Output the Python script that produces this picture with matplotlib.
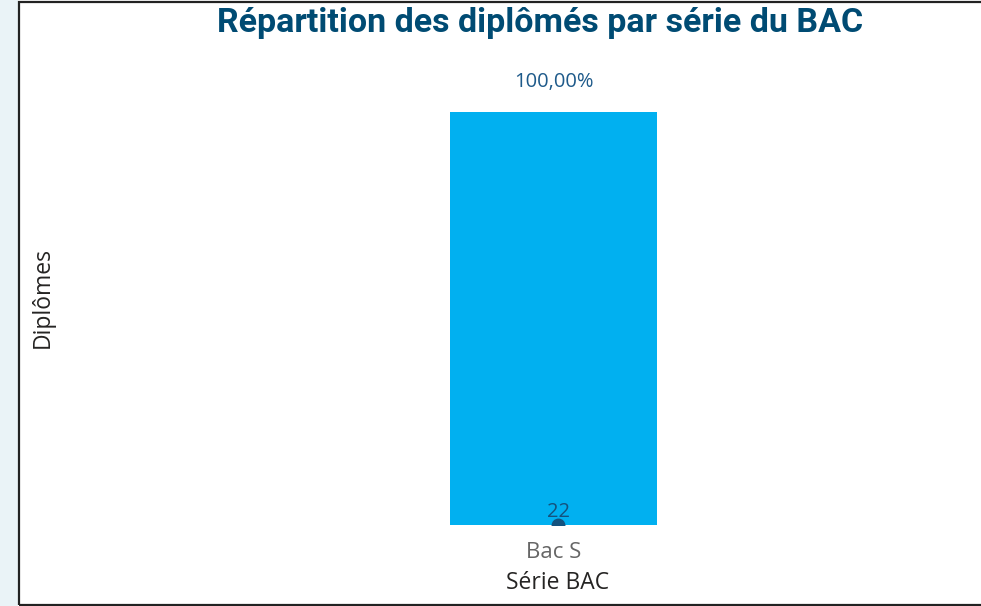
import matplotlib
matplotlib.use("Agg")
import matplotlib.pyplot as plt
from matplotlib.patches import Rectangle

categories = ["Bac S"]
pct_values = [100.0]
count_values = [22]
pct_labels = ["100,00%"]

W, H = 981, 606
fig = plt.figure(figsize=(W / 100, H / 100), dpi=100)
fig.patch.set_facecolor("white")

# left pale strip and black frame (no right edge visible)
fig.patches.append(Rectangle((0, 0), 18 / W, 1, transform=fig.transFigure,
                             facecolor="#EAF3F7", edgecolor="none", zorder=0))
fig.patches.append(Rectangle((18.5 / W, 1.5 / H), (W + 20) / W, (H - 3) / H,
                             transform=fig.transFigure, facecolor="none",
                             edgecolor="#222222", linewidth=1.6, zorder=5))

ax_left, ax_right = 60, 960
ax_top, ax_bottom = 60, 525
ax = fig.add_axes([ax_left / W, (H - ax_bottom) / H,
                   (ax_right - ax_left) / W, (ax_bottom - ax_top) / H])
bar_center_px = 553.5
span = 1.0
xmin = -(bar_center_px - ax_left) / (ax_right - ax_left) * span
ax.set_xlim(xmin, xmin + span)
frac = (ax_bottom - 112) / (ax_bottom - ax_top)
ax.set_ylim(0, 100 / frac)

bar_w = 207 / (ax_right - ax_left) * span
x = list(range(len(categories)))
ax.bar(x, pct_values, width=bar_w, color="#01B0F0", zorder=2)
for xi, v, lab in zip(x, pct_values, pct_labels):
    ax.annotate(lab, (xi, v), xytext=(0, 21.6), textcoords="offset points",
                ha="center", va="center", fontsize=14.5, color="#1E5A8A",
                family="Open Sans")

ax.set_xticks(x)
ax.set_xticklabels(categories, fontsize=16, color="#666666", family="Open Sans")
ax.tick_params(axis="x", length=0, pad=12)
ax.set_yticks([])
for s in ax.spines.values():
    s.set_visible(False)

fig.text(558 / W, 1 - 583 / H, "Série BAC", ha="center", va="center",
         fontsize=16.5, color="#252423", family="Open Sans")

# secondary series (count) on twin axis
ax2 = ax.twinx()
ax2.set_ylim(count_values[0], count_values[0] * 2)
ax2.plot([xi + 0.005 for xi in x], count_values, marker="o", markersize=9,
         color="#14527E", linestyle="-", clip_on=True, zorder=3)
for xi, v in zip(x, count_values):
    ax2.annotate(str(v), (xi + 0.005, v), xytext=(0, 9.4), textcoords="offset points",
                 ha="center", va="center", fontsize=14.5, color="#14527E",
                 family="Open Sans")
ax2.set_yticks([])
for s in ax2.spines.values():
    s.set_visible(False)

fig.text(43 / W, 1 - 297 / H, "Diplômes", rotation=90, ha="center", va="center",
         fontsize=16.5, color="#252423", family="Open Sans")

fig.text(540 / W, 1 - 23 / H, "Répartition des diplômés par série du BAC",
         ha="center", va="center", fontsize=24.5, fontweight="bold",
         color="#004B73", family="Roboto")

fig.savefig("out.png", dpi=100, facecolor=fig.get_facecolor())
